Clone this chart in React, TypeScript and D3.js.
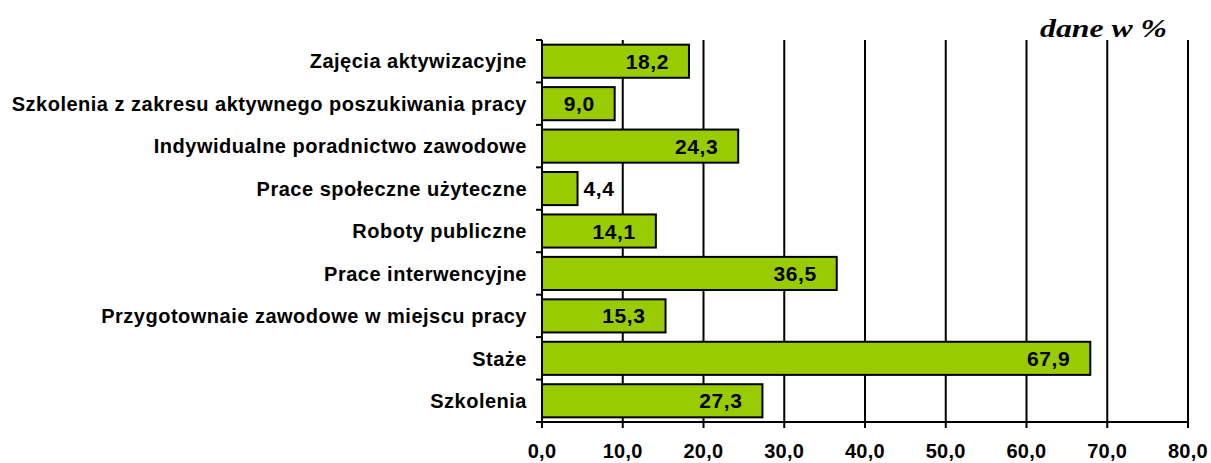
import * as d3 from "d3";
import { useEffect, useRef } from "react";

const categories = [
  "Zajęcia aktywizacyjne",
  "Szkolenia z zakresu aktywnego poszukiwania pracy",
  "Indywidualne poradnictwo zawodowe",
  "Prace społeczne użyteczne",
  "Roboty publiczne",
  "Prace interwencyjne",
  "Przygotownaie zawodowe w miejscu pracy",
  "Staże",
  "Szkolenia",
];
const values = [18.2, 9.0, 24.3, 4.4, 14.1, 36.5, 15.3, 67.9, 27.3];
const xTicks = [0, 10, 20, 30, 40, 50, 60, 70, 80];

const fmt = (v: number) => v.toFixed(1).replace(".", ",");
const sans = "Liberation Sans, Arial, sans-serif";

const App = () => {
  const ref = useRef(null);

  useEffect(() => {
    const width = 1211;
    const height = 463;
    const margin = { top: 40, right: 23, bottom: 41, left: 542 };
    const innerW = width - margin.left - margin.right;
    const innerH = height - margin.top - margin.bottom;

    const svg = d3.select(ref.current);
    svg.selectAll("*").remove();

    const x = d3.scaleLinear().domain([0, 80]).range([0, innerW]);
    const y = d3.scaleBand().domain(categories).range([0, innerH]).paddingInner(0.22).paddingOuter(0.11);

    const g = svg.append("g").attr("transform", `translate(${margin.left},${margin.top})`);

    // gridlines
    g.selectAll(".grid")
      .data(xTicks.slice(1))
      .enter()
      .append("line")
      .attr("x1", (d) => x(d))
      .attr("x2", (d) => x(d))
      .attr("y1", 0)
      .attr("y2", innerH)
      .attr("stroke", "#000")
      .attr("stroke-width", 2);

    // bars
    g.selectAll(".bar")
      .data(values)
      .enter()
      .append("rect")
      .attr("x", 0)
      .attr("y", (d, i) => y(categories[i]))
      .attr("width", (d) => x(d))
      .attr("height", y.bandwidth())
      .attr("fill", "#99CC00")
      .attr("stroke", "#000")
      .attr("stroke-width", 2);

    // value labels
    g.selectAll(".val")
      .data(values)
      .enter()
      .append("text")
      .attr("x", (d) => (d < 6 ? x(d) + 6 : x(d) - 20))
      .attr("y", (d, i) => y(categories[i]) + y.bandwidth() / 2)
      .attr("dy", "0.36em")
      .attr("text-anchor", (d) => (d < 6 ? "start" : "end"))
      .style("font-family", sans)
      .style("font-weight", "bold")
      .style("font-size", "21px")
      .style("letter-spacing", "0.6px")
      .text((d) => fmt(d));

    // y axis
    const yAxis = g.append("g");
    yAxis.append("line")
      .attr("x1", 0).attr("x2", 0).attr("y1", 0).attr("y2", innerH)
      .attr("stroke", "#000").attr("stroke-width", 2);
    const step = innerH / categories.length;
    yAxis.selectAll(".ytick")
      .data(d3.range(categories.length + 1))
      .enter()
      .append("line")
      .attr("x1", -6).attr("x2", 0)
      .attr("y1", (d) => d * step).attr("y2", (d) => d * step)
      .attr("stroke", "#000").attr("stroke-width", 2);
    yAxis.selectAll(".ylab")
      .data(categories)
      .enter()
      .append("text")
      .attr("x", -15)
      .attr("y", (d) => y(d) + y.bandwidth() / 2)
      .attr("dy", "0.36em")
      .attr("text-anchor", "end")
      .style("font-family", sans)
      .style("font-weight", "bold")
      .style("font-size", "20px")
      .style("letter-spacing", "0.5px")
      .text((d) => d);

    // x axis
    const xAxis = g.append("g").attr("transform", `translate(0,${innerH})`);
    xAxis.append("line")
      .attr("x1", 0).attr("x2", innerW)
      .attr("stroke", "#000").attr("stroke-width", 2);
    xAxis.selectAll(".xtick")
      .data(xTicks)
      .enter()
      .append("line")
      .attr("x1", (d) => x(d)).attr("x2", (d) => x(d))
      .attr("y1", 0).attr("y2", 6)
      .attr("stroke", "#000").attr("stroke-width", 2);
    xAxis.selectAll(".xlab")
      .data(xTicks)
      .enter()
      .append("text")
      .attr("x", (d) => x(d))
      .attr("y", 36)
      .attr("text-anchor", "middle")
      .style("font-family", sans)
      .style("font-weight", "bold")
      .style("font-size", "20px")
      .style("letter-spacing", "0.3px")
      .text((d) => fmt(d));

    svg.append("text")
      .attr("x", 1040)
      .attr("y", 37)
      .attr("textLength", 127)
      .attr("lengthAdjust", "spacingAndGlyphs")
      .style("font-family", "Liberation Serif, Times New Roman, serif")
      .style("font-weight", "bold")
      .style("font-style", "italic")
      .style("font-size", "25px")
      .text("dane w %");
  }, []);

  return (
    <svg
      ref={ref}
      width={1211}
      height={463}
      style={{ position: "absolute", left: 0, top: 0, background: "#fff" }}
    ></svg>
  );
};

export default App;
